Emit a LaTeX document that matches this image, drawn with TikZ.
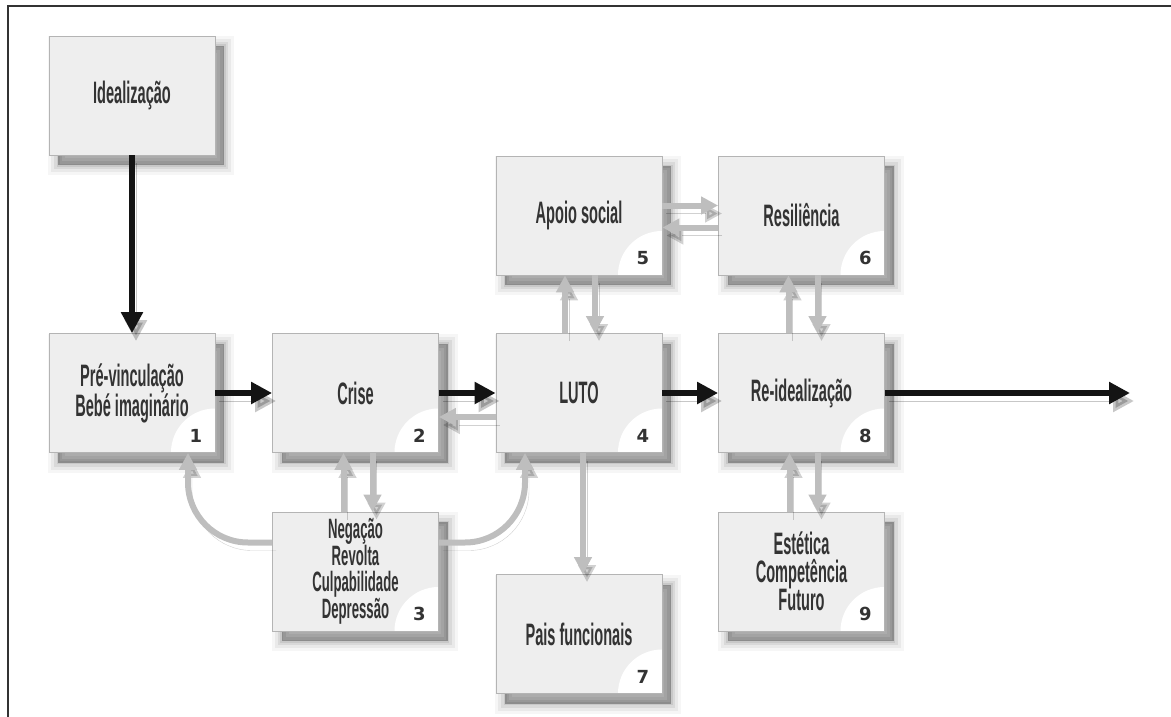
\documentclass[tikz,border=0pt]{standalone}
\usepackage{fontspec}
\setmainfont{Liberation Sans}
\newfontfamily\stagefont[FakeStretch=0.47]{Liberation Sans Bold}
\newfontfamily\numfont{DejaVu Sans}
\usetikzlibrary{arrows.meta,shadows}
\definecolor{boxfill}{HTML}{EEEEEE}
\definecolor{boxline}{HTML}{B4B4B4}
\definecolor{textgrey}{HTML}{333333}
\definecolor{linkgrey}{HTML}{BEBEBE}
\definecolor{flowblack}{HTML}{141414}

\begin{document}
\begin{tikzpicture}[x=1pt, y=-1pt,
    softshadow/.style={
        general shadow={draw=black, line width=20pt, opacity=.035, shadow xshift=9pt, shadow yshift=-10pt},
        general shadow={draw=black, line width=14pt, opacity=.05, shadow xshift=9pt, shadow yshift=-10pt},
        general shadow={draw=black, line width=8pt, opacity=.07, shadow xshift=9pt, shadow yshift=-10pt},
        general shadow={draw=black, line width=3pt, opacity=.08, shadow xshift=9pt, shadow yshift=-10pt},
        general shadow={fill=black, opacity=.3, shadow xshift=9pt, shadow yshift=-10pt}},
    stagebox/.style={draw=boxline, fill=boxfill, line width=.8pt, minimum width=166pt,
        minimum height=119pt, inner sep=0pt, align=center, text=textgrey,
        font=\stagefont\fontsize{31}{28}\selectfont, softshadow},
    numbered/.style={stagebox, path picture={
        \fill[white] (path picture bounding box.south east) circle (44pt);
        \node[draw=none, fill=none, minimum size=0pt, inner sep=0pt, text=textgrey,
            font=\numfont\bfseries\fontsize{18}{18}\selectfont]
            at ([shift={(-19pt,17pt)}]path picture bounding box.south east) {#1};}},
    flow/.style={draw=flowblack, line width=6pt, arrows={-Triangle[length=21pt, width=21pt]},
        preaction={draw=black, opacity=.22, transform canvas={shift={(4pt,-8pt)}}}},
    link/.style={draw=linkgrey, line width=6pt, arrows={-Triangle[length=17pt, width=17pt]},
        preaction={draw=black, opacity=.18, transform canvas={shift={(4pt,-8pt)}}}}
]

    \useasboundingbox (0,0) rectangle (1171,717);
    \draw[line width=1.5pt, draw=black!80] (8,717) -- (8,6) -- (1171,6);

    \path node (ideal) [stagebox] at (132,95.5) {Idealização};
    \path node (b1) [numbered=1] at (132,393) {Pré-vinculação\\Bebé imaginário};
    \path node (b2) [numbered=2] at (355.5,393) {Crise};
    \path node (b3) [numbered=3, font=\stagefont\fontsize{28}{26.5}\selectfont] at (355.5,571.5)
        {Negação\\Revolta\\Culpabilidade\\Depressão};
    \path node (b4) [numbered=4] at (579,393) {LUTO};
    \path node (b5) [numbered=5] at (579,215.5) {Apoio social};
    \path node (b6) [numbered=6] at (801.5,215.5) {Resiliência};
    \path node (b7) [numbered=7] at (579,634) {Pais funcionais};
    \path node (b8) [numbered=8] at (801.5,393) {Re-idealização};
    \path node (b9) [numbered=9] at (801.5,571.5) {Estética\\Competência\\Futuro};
    \coordinate (out) at (1130,393);

    \draw[link] ([yshift=-24pt]b4.west) -- ([yshift=-24pt]b2.east);
    \draw[link] ([xshift=-12pt]b3.north) -- ([xshift=-12pt]b2.south);
    \draw[link] ([xshift=17pt]b2.south) -- ([xshift=17pt]b3.north);
    \draw[link, rounded corners=60pt] ([yshift=29pt]b3.west) -| ([xshift=56pt]b1.south);
    \draw[link, rounded corners=60pt] ([yshift=29pt]b3.east) -| ([xshift=-54pt]b4.south);
    \draw[link] ([xshift=-14pt]b4.north) -- ([xshift=-14pt]b5.south);
    \draw[link] ([xshift=16pt]b5.south) -- ([xshift=16pt]b4.north);
    \draw[link] ([xshift=4pt]b4.south) -- ([xshift=4pt]b7.north);
    \draw[link] ([yshift=10pt]b5.east) -- ([yshift=10pt]b6.west);
    \draw[link] ([yshift=-12pt]b6.west) -- ([yshift=-12pt]b5.east);
    \draw[link] ([xshift=-13pt]b8.north) -- ([xshift=-13pt]b6.south);
    \draw[link] ([xshift=16pt]b6.south) -- ([xshift=16pt]b8.north);
    \draw[link] ([xshift=-12pt]b9.north) -- ([xshift=-12pt]b8.south);
    \draw[link] ([xshift=16pt]b8.south) -- ([xshift=16pt]b9.north);

    \draw[flow] (ideal) -- (b1);
    \draw[flow] (b1) -- (b2);
    \draw[flow] (b2) -- (b4);
    \draw[flow] (b4) -- (b8);
    \draw[flow] (b8) -- (out);

\end{tikzpicture}
\end{document}
